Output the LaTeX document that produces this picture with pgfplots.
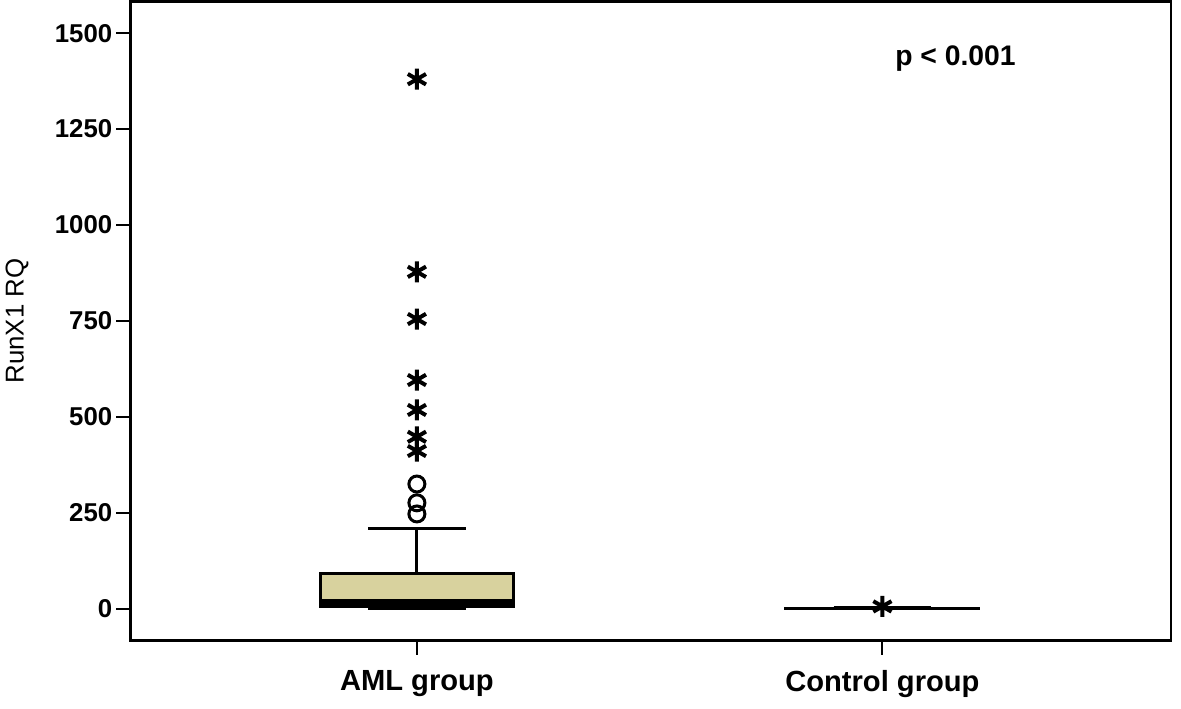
\documentclass[border=0pt]{standalone}
\usepackage{pgfplots}
\pgfplotsset{compat=1.18}
\usepgfplotslibrary{statistics}
\usepackage{fontspec}
\setmainfont{Liberation Sans}
\definecolor{boxfill}{RGB}{216,210,158}
\begin{document}
\begin{tikzpicture}
\begin{axis}[
  scale only axis,
  width=625pt, height=384pt,
  xmin=0.385, xmax=2.62,
  ymin=-83, ymax=1583,
  xtick={1,2}, xticklabels={AML group, Control group},
  ytick={0,250,500,750,1000,1250,1500},
  /pgf/number format/1000 sep={},
  /pgf/number format/assume math mode=true,
  tick align=outside, tick pos=left,
  major tick length=8.5pt,
  axis line style={line width=1.6pt},
  every tick/.style={line width=1.3pt, black},
  yticklabel style={font=\bfseries\fontsize{15.5}{15.5}\selectfont, xshift=1pt},
  xticklabel style={font=\bfseries\fontsize{17.5}{17.5}\selectfont, yshift=-6pt},
  ylabel={RunX1 RQ},
  ylabel style={font=\fontsize{15.5}{15.5}\selectfont, yshift=9pt},
  boxplot/draw direction=y,
  boxplot/every box/.style={draw=black, line width=1.7pt, fill=boxfill},
  boxplot/every whisker/.style={draw=black, line width=1.7pt},
]
\addplot+[boxplot prepared={
    draw position=1, lower whisker=1, lower quartile=5,
    median=17, upper quartile=91, upper whisker=208,
    box extend=0.415, whisker extend=0.21},
  black, solid, mark=none,
  boxplot/every median/.style={draw=black, line width=3.5pt}]
  coordinates {};
\addplot+[boxplot prepared={
    draw position=2, lower whisker=0.3, lower quartile=0.8,
    median=1.2, upper quartile=1.8, upper whisker=3.5,
    box extend=0.415, whisker extend=0.21},
  black, solid, mark=none,
  boxplot/every median/.style={draw=black, line width=1.7pt}]
  coordinates {};
% extreme outliers
\addplot[only marks, mark=asterisk, mark size=6.3pt, line width=2.4pt, black]
  coordinates {(1,1380) (1,878) (1,755) (1,596) (1,518) (1,448) (1,411) (2,6)};
% outliers
\addplot[only marks, mark=o, mark size=4.8pt, line width=1.8pt, black]
  coordinates {(1,325) (1,276) (1,247)};
\node[font=\bfseries\fontsize{17}{17}\selectfont] at (axis cs:2.157,1435) {p < 0.001};
\end{axis}
\path ([xshift=6pt]current axis.east) ([yshift=-3pt]current axis.outer south);
\end{tikzpicture}
\end{document}
